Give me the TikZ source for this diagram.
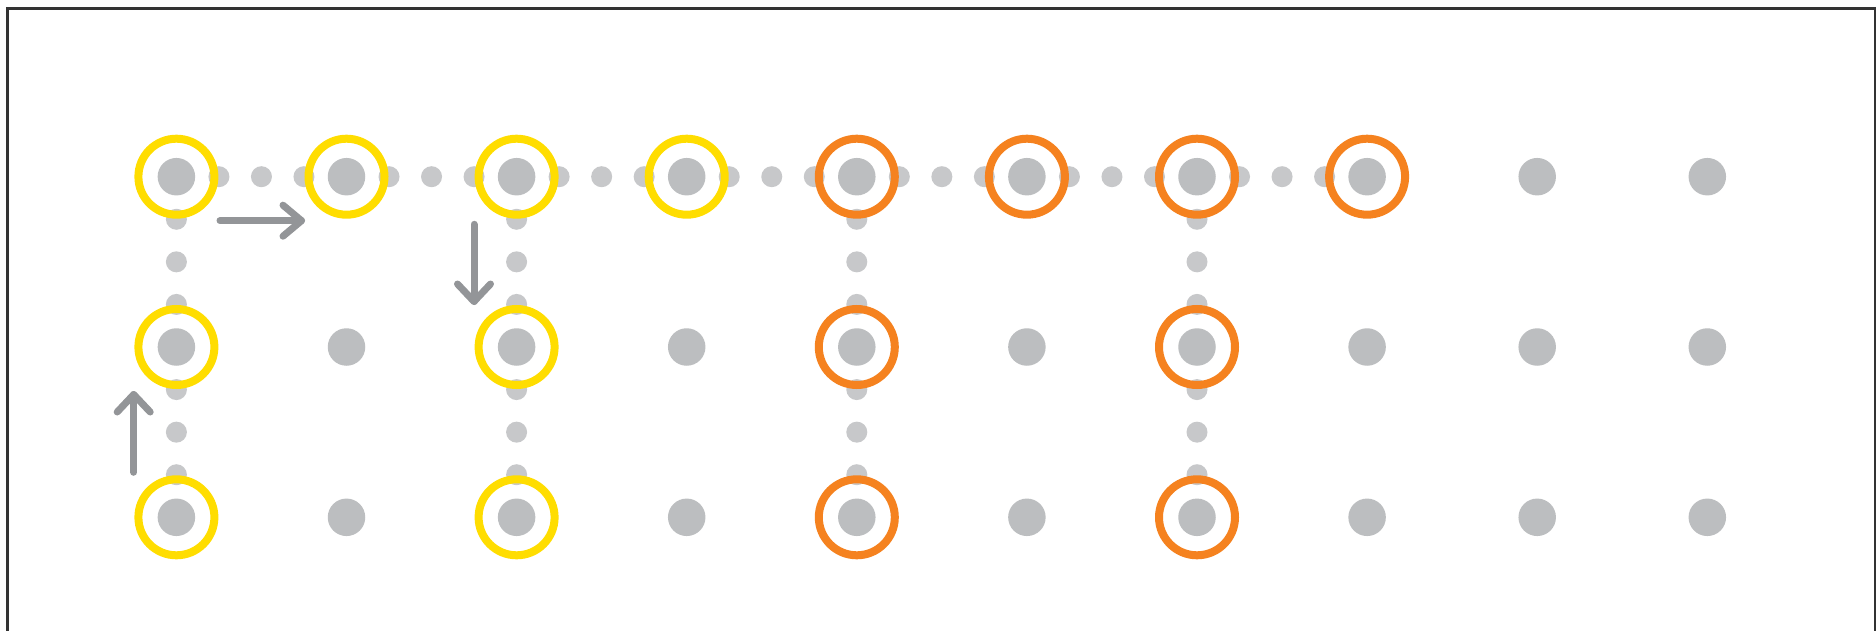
\documentclass[tikz,border=0pt]{standalone}
\usetikzlibrary{calc}
\definecolor{bigdotc}{HTML}{BCBEC0}
\definecolor{smalldotc}{HTML}{C7C8CA}
\definecolor{ringyellow}{HTML}{FFDD00}
\definecolor{ringorange}{HTML}{F5821F}
\definecolor{arrowc}{HTML}{939598}
\definecolor{framec}{HTML}{333333}
\tikzset{
  bigdot/.style={circle,fill=bigdotc,inner sep=0pt,minimum size=37.5pt},
  smalldot/.style={circle,fill=smalldotc,inner sep=0pt,minimum size=21pt},
  ringy/.style={circle,draw=ringyellow,line width=8pt,inner sep=0pt,minimum size=76pt},
  ringo/.style={circle,draw=ringorange,line width=8pt,inner sep=0pt,minimum size=76pt},
  arrowline/.style={draw=arrowc,line width=7pt,line cap=round,line join=round},
}
\begin{document}
\begin{tikzpicture}[x=1pt,y=-1pt]
\useasboundingbox (0,0) rectangle (1876,631);
\clip (0,0) rectangle (1876,631);
\fill[white] (0,0) rectangle (1876,631);
\draw[framec,line width=2.6pt] (7.3,8.7) rectangle (1875,660);
% small dots, top row
\foreach \c in {0,...,6}{
  \foreach \k in {1,2,3}{
    \node[smalldot] (s-\c-\k) at ({176.4+170.1*(\c+\k/4)},176.7) {};
  }
}
% small dots, vertical
\foreach \c in {0,2,4,6}{
  \foreach \r in {0,1}{
    \foreach \k in {1,2,3}{
      \node[smalldot] (v-\c-\r-\k) at ({176.4+170.1*\c},{176.7+170.3*(\r+\k/4)}) {};
    }
  }
}
% big dots
\foreach \c in {0,...,9}{
  \foreach \r in {0,1,2}{
    \node[bigdot] (b-\c-\r) at ({176.4+170.1*\c},{176.7+170.3*\r}) {};
  }
}
% rings
\foreach \c in {0,...,3}{ \node[ringy] (ry-\c-0) at (b-\c-0) {}; }
\foreach \c in {4,...,7}{ \node[ringo] (ro-\c-0) at (b-\c-0) {}; }
\foreach \c in {0,2}{ \foreach \r in {1,2}{ \node[ringy] (ry-\c-\r) at (b-\c-\r) {}; } }
\foreach \c in {4,6}{ \foreach \r in {1,2}{ \node[ringo] (ro-\c-\r) at (b-\c-\r) {}; } }
% arrows
\coordinate (ra-s) at (220,220.7);
\coordinate (ra-e) at (301.5,220.7);
\draw[arrowline] (ra-s) -- (ra-e);
\draw[arrowline] ($(ra-e)+(-18.5,-15.5)$) -- (ra-e) -- ($(ra-e)+(-18.5,15.5)$);
\coordinate (da-s) at (474,224.3);
\coordinate (da-e) at (474,301.5);
\draw[arrowline] (da-s) -- (da-e);
\draw[arrowline] ($(da-e)+(-16.5,-17.5)$) -- (da-e) -- ($(da-e)+(16.5,-17.5)$);
\coordinate (ua-s) at (133.7,472.3);
\coordinate (ua-e) at (133.7,394.5);
\draw[arrowline] (ua-s) -- (ua-e);
\draw[arrowline] ($(ua-e)+(-16.5,17.5)$) -- (ua-e) -- ($(ua-e)+(16.5,17.5)$);
\end{tikzpicture}
\end{document}
